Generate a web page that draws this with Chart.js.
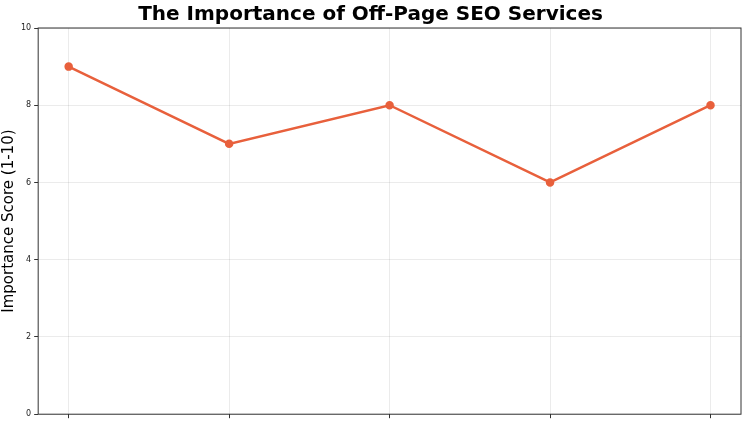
<!DOCTYPE html>
<html>
<head>
<meta charset="utf-8">
<script src="https://cdn.jsdelivr.net/npm/chart.js@4"></script>
<style>
  html, body { margin: 0; padding: 0; background: #fff; }
  #wrap { width: 750px; height: 422px; }
</style>
</head>
<body>
<div id="wrap"><canvas id="chart"></canvas></div>
<script>
// data
const categories = ["Link Building", "Social Media", "Content Marketing", "Guest Posting", "Brand Mentions"];
const scores = [9, 7, 8, 6, 8];
const yTicks = [0, 2, 4, 6, 8, 10];

const points = scores.map((v, i) => ({ x: i, y: v }));

// draws a frame around the plot area
const frame = {
    id: "frame",
    afterDraw(chart) {
        const { ctx, chartArea: a } = chart;
        ctx.save();
        ctx.strokeStyle = "#333";
        ctx.lineWidth = 1;
        ctx.strokeRect(a.left, a.top, a.right - a.left, a.bottom - a.top);
        ctx.restore();
    }
};

new Chart(document.getElementById("chart"), {
    type: "line",
    data: {
        datasets: [{
            data: points,
            borderColor: "#E8603C",
            backgroundColor: "#E8603C",
            borderWidth: 2.5,
            pointRadius: 3,
            tension: 0
        }]
    },
    options: {
        responsive: true,
        maintainAspectRatio: false,
        animation: false,
        layout: { padding: { right: 9, bottom: 0 } },
        plugins: {
            legend: { display: false },
            tooltip: { enabled: false },
            title: {
                display: true,
                text: "The Importance of Off-Page SEO Services",
                color: "#000",
                font: { family: "DejaVu Sans", size: 20, weight: "bold" },
                padding: { top: 3, bottom: 1 }
            }
        },
        scales: {
            x: {
                type: "linear",
                min: -0.19,
                max: 4.19,
                afterBuildTicks: axis => { axis.ticks = categories.map((c, i) => ({ value: i })); },
                ticks: { callback: () => "", padding: 0, font: { size: 1 } },
                grid: { color: "rgba(0,0,0,0.08)", tickLength: 4, tickColor: "#333" },
                border: { display: false }
            },
            y: {
                min: 0,
                max: 10,
                afterBuildTicks: axis => { axis.ticks = yTicks.map(v => ({ value: v })); },
                ticks: { color: "#222", font: { family: "DejaVu Sans", size: 8 }, padding: 3 },
                grid: { color: "rgba(0,0,0,0.08)", tickLength: 4, tickColor: "#333" },
                border: { display: false },
                title: {
                    display: true,
                    text: "Importance Score (1-10)",
                    color: "#000",
                    font: { family: "DejaVu Sans", size: 15 },
                    padding: { top: 0, bottom: 0 }
                }
            }
        }
    },
    plugins: [frame]
});
</script>
</body>
</html>
